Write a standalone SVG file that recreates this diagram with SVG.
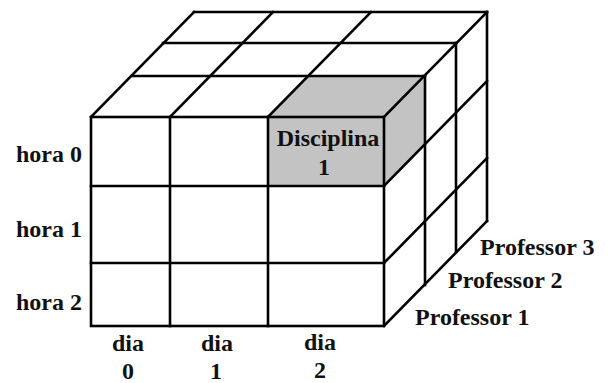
<svg xmlns="http://www.w3.org/2000/svg" width="610" height="383" viewBox="0 0 610 383">
<style>
.ln{stroke:#000;stroke-width:2.6;fill:none;stroke-linecap:square}
.sh{fill:#c3c3c3;stroke:none}
.t{font-family:"Liberation Serif","Times New Roman",serif;font-weight:bold;font-size:24px;fill:#111}
.m{text-anchor:middle}
</style>
<rect width="610" height="383" fill="#fff"/>
<g id="highlight">
<rect class="sh" x="268" y="117" width="116" height="69"/>
<polygon class="sh" points="268,117 384,117 425,76 309,76"/>
<polygon class="sh" points="384,117 425,76 425,145 384,186"/>
</g>
<g id="cube">
<rect class="ln" x="91" y="117" width="293" height="209"/>
<line class="ln" x1="170" y1="117" x2="170" y2="326"/>
<line class="ln" x1="268" y1="117" x2="268" y2="326"/>
<line class="ln" x1="91" y1="186" x2="384" y2="186"/>
<line class="ln" x1="91" y1="263" x2="384" y2="263"/>
<line class="ln" x1="132" y1="76" x2="425" y2="76"/>
<line class="ln" x1="163" y1="43" x2="456" y2="43"/>
<line class="ln" x1="194" y1="12" x2="487" y2="12"/>
<line class="ln" x1="91" y1="117" x2="194" y2="12"/>
<line class="ln" x1="170" y1="117" x2="273" y2="12"/>
<line class="ln" x1="268" y1="117" x2="371" y2="12"/>
<line class="ln" x1="384" y1="117" x2="487" y2="12"/>
<line class="ln" x1="425" y1="76" x2="425" y2="285"/>
<line class="ln" x1="456" y1="43" x2="456" y2="252"/>
<line class="ln" x1="487" y1="12" x2="487" y2="221"/>
<line class="ln" x1="384" y1="186" x2="487" y2="81"/>
<line class="ln" x1="384" y1="263" x2="487" y2="158"/>
<line class="ln" x1="384" y1="326" x2="487" y2="221"/>
</g>
<g id="cell-label">
<text class="t m" x="328" y="146">Disciplina</text>
<text class="t m" x="324" y="175">1</text>
</g>
<g id="hours">
<text class="t" x="16" y="162">hora 0</text>
<text class="t" x="16" y="237">hora 1</text>
<text class="t" x="16" y="310">hora 2</text>
</g>
<g id="days">
<text class="t m" x="128" y="351">dia</text>
<text class="t m" x="128" y="379">0</text>
<text class="t m" x="217" y="351">dia</text>
<text class="t m" x="216" y="379">1</text>
<text class="t m" x="320" y="350">dia</text>
<text class="t m" x="320" y="378">2</text>
</g>
<g id="professors">
<text class="t" x="480" y="255">Professor 3</text>
<text class="t" x="448" y="288">Professor 2</text>
<text class="t" x="415" y="325">Professor 1</text>
</g>
</svg>
